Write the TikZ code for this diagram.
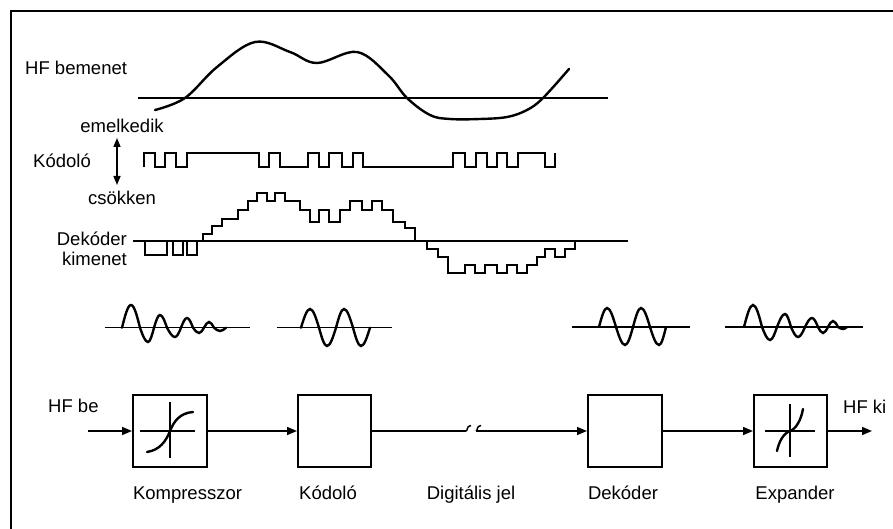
\documentclass[tikz,border=0pt]{standalone}
\usepackage{fontspec}
\setmainfont{Liberation Sans}
\usetikzlibrary{arrows.meta}
\begin{document}
\begin{tikzpicture}[x=1pt,y=-1pt,
  lbl/.style={inner sep=0pt, font=\fontsize{18.5}{22}\selectfont},
  frameline/.style={line width=1.5pt},
  axisline/.style={line width=1.4pt},
  sig/.style={line width=2.4pt, line join=miter},
  wave/.style={line width=2.4pt, line cap=round},
  blockbox/.style={draw, line width=2pt, minimum width=74pt, minimum height=72pt, inner sep=0pt},
  flow/.style={line width=1.5pt, -{Triangle[length=10pt,width=8pt]}},
  plainflow/.style={line width=1.5pt},
  innerline/.style={line width=1.5pt},
  dblarrow/.style={line width=1.5pt, {Triangle[length=9pt,width=7pt]}-{Triangle[length=9pt,width=7pt]}},
]
\useasboundingbox (0,0) rectangle (893,529);

% partial frame
\draw[frameline] (893,11) -- (11,11) -- (11,529);

% ---------- HF input waveform ----------
\node[lbl, anchor=base west] (hfin) at (25,75) {HF bemenet};
\draw[axisline] (138,98) -- (608,98);
\draw[wave] plot[smooth, tension=0.6] coordinates {
  (155,110) (185,98) (217,67) (255,42) (290,52) (317,63) (357,52)
  (388,75) (407,98) (430,115) (450,119) (480,119) (507,117) (527,110) (543,98) (569,69)};

% ---------- coder pulses ----------
\node[lbl, anchor=base] (emel) at (122,133) {emelkedik};
\node[lbl, anchor=base] (kod) at (62,168) {Kódoló};
\node[lbl, anchor=base] (csok) at (122,205) {csökken};
\coordinate (arrUp) at (117,138);
\coordinate (arrDn) at (117,185);
\draw[dblarrow] (arrUp) -- (arrDn);

\draw[sig] (144,167) -- (144,153) -- (155,153) -- (155,167) -- (165,167) -- (165,153)
  -- (176,153) -- (176,167) -- (187,167) -- (187,153) -- (259,153) -- (259,167)
  -- (269,167) -- (269,153) -- (280,153) -- (280,167) -- (308,167) -- (308,153)
  -- (319,153) -- (319,167) -- (329,167) -- (329,153) -- (342,153) -- (342,167)
  -- (353,167) -- (353,153) -- (363,153) -- (363,167) -- (453,167) -- (453,153)
  -- (465,153) -- (465,167) -- (476,167) -- (476,153) -- (487,153) -- (487,167)
  -- (497,167) -- (497,153) -- (507,153) -- (507,167) -- (518,167) -- (518,153)
  -- (545,153) -- (545,167) -- (555,167) -- (555,153);

% ---------- decoder output staircase ----------
\node[lbl, anchor=base east] (dek1) at (127,245) {Dekóder};
\node[lbl, anchor=base east] (dek2) at (127,265) {kimenet};
\draw[axisline] (133,241) -- (628,241);
\draw[sig] (145,241) -- (145,255) -- (167,255) -- (167,241) -- (173,241) -- (173,255)
  -- (183,255) -- (183,241) -- (187,241) -- (187,255) -- (197,255) -- (197,241)
  -- (203,241) -- (203,234) -- (212,234) -- (212,226) -- (222,226) -- (222,219)
  -- (238,219) -- (238,210) -- (248,210) -- (248,201) -- (257,201) -- (257,193)
  -- (267,193) -- (267,201) -- (275,201) -- (275,193) -- (285,193) -- (285,201)
  -- (300,201) -- (300,210) -- (310,210) -- (310,222) -- (319,222) -- (319,210)
  -- (329,210) -- (329,222) -- (340,222) -- (340,210) -- (350,210) -- (350,201)
  -- (362,201) -- (362,210) -- (372,210) -- (372,201) -- (382,201) -- (382,210)
  -- (393,210) -- (393,222) -- (405,222) -- (405,228) -- (415,228) -- (415,241)
  -- (427,241) -- (427,249) -- (438,249) -- (438,257) -- (448,257) -- (448,273)
  -- (465,273) -- (465,265) -- (475,265) -- (475,273) -- (485,273) -- (485,265)
  -- (497,265) -- (497,273) -- (507,273) -- (507,265) -- (517,265) -- (517,273)
  -- (527,273) -- (527,265) -- (537,265) -- (537,257) -- (545,257) -- (545,249)
  -- (555,249) -- (555,257) -- (565,257) -- (565,249) -- (575,249) -- (575,241);

% ---------- small waveforms ----------
\draw[axisline] (105,327.7) -- (250,327.7);
\draw[wave] (122,327.7) sin (131,305) cos (140,327.7) sin (148,342) cos (154,327.7)
  sin (160,315) cos (167,327.7) sin (175,337) cos (181,327.7)
  sin (187,318) cos (193,327.7) sin (199,333) cos (204,327.7)
  sin (209,322) cos (214,327.7) sin (220,331) cos (226,327.7);

\draw[axisline] (277,327.7) -- (392,327.7);
\draw[wave] (301,327.7) sin (310,309) cos (319,327.7) sin (327,346) cos (336,327.7)
  sin (344,309) cos (353,327.7) sin (361,346) cos (370,327.7);

\draw[axisline] (572,327) -- (690,327);
\draw[wave] (599,327) sin (607,308) cos (616,327) sin (625,345) cos (633,327)
  sin (641,308) cos (650,327) sin (659,345) cos (666,327);

\draw[axisline] (725,327) -- (863,327);
\draw[wave] (744,327) sin (753,305) cos (762,327) sin (770,340) cos (777,327)
  sin (785,314) cos (791,327) sin (798,337) cos (805,327)
  sin (812,318) cos (818,327) sin (823,333) cos (828,327)
  sin (833,321) cos (838,327) sin (843,329) cos (847,327);

% ---------- block diagram ----------
\node[blockbox] (comp) at (170,431) {};
\node[blockbox, minimum width=73pt] (coder) at (334.5,431) {};
\node[blockbox] (decoder) at (625,431) {};
\node[blockbox, minimum width=73pt] (expand) at (790.5,431) {};

% compressor characteristic
\draw[innerline] (140,431) -- (195,431);
\draw[innerline] (170,402) -- (170,458);
\draw[wave] (147,452) .. controls (160,450) and (166,441) .. (170,431)
  .. controls (174,421) and (180,413) .. (193,412);
% expander characteristic
\draw[innerline] (765,431) -- (815,431);
\draw[innerline] (790,404) -- (790,457);
\draw[wave] (777,451) .. controls (779,441) and (784,433) .. (790,431)
  .. controls (796,429) and (801,420) .. (803,409);

\coordinate (inpt) at (88,431);
\coordinate (outpt) at (872,431);
\coordinate (brkA) at (466,431);
\coordinate (brkB) at (476,431);

\node[lbl, anchor=base west] (hfbe) at (48,412) {HF be};
\node[lbl, anchor=base west] (hfki) at (843,413) {HF ki};

\draw[flow] (inpt) -- (comp);
\draw[flow] (comp) -- (coder);
\draw[plainflow] (coder) -- (brkA);
\draw[plainflow] (brkA) .. controls (468,431) and (466,426) .. (471,425.5);
\draw[plainflow] (brkB) .. controls (478,431) and (476,426) .. (481,425.5);
\draw[flow] (brkB) -- (decoder);
\draw[flow] (decoder) -- (expand);
\draw[flow] (expand) -- (outpt);

\node[lbl, anchor=base] (lcomp) at (187.5,499) {Kompresszor};
\node[lbl, anchor=base] (lcod) at (328,499) {Kódoló};
\node[lbl, anchor=base] (ldig) at (471,499) {Digitális jel};
\node[lbl, anchor=base] (ldec) at (623,499) {Dekóder};
\node[lbl, anchor=base] (lexp) at (795,499) {Expander};
\end{tikzpicture}
\end{document}
